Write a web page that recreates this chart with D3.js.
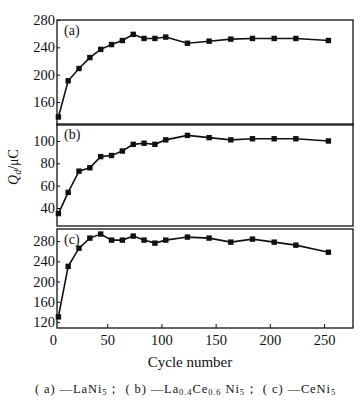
<!DOCTYPE html>
<html><head><meta charset="utf-8">
<script src="https://cdn.jsdelivr.net/npm/d3@7"></script>
<style>body{margin:0;background:#fff}svg{display:block}</style>
</head><body>
<svg id="c" width="361" height="408"></svg>
<script>
const cycles = [5,14,24,34,44,54,64,74,84,94,104,124,144,164,184,204,224,254];
const seriesA = [138,191,209,225,237,244,250,259,253,253,255,246,249,252,253,253,253,250];
const seriesB = [35,54,73,76,86,87,91,97,98,97,101,105,103,101,102,102,102,100];
const seriesC = [130,230,266,286,294,282,282,290,282,276,282,288,286,278,284,278,272,258];
const ticksA = [160,200,240,280];
const ticksB = [40,60,80,100];
const ticksC = [120,160,200,240,280];
const xTicks = [0,50,100,150,200,250];
const panelLabels = ["(a)","(b)","(c)"];

const svg = d3.select("#c");
const font = "'Liberation Serif', 'Times New Roman', serif";
const x = d3.scaleLinear().domain([3.7, 276.7]).range([57, 353]);

const panels = [
  {data: seriesA, ticks: ticksA, domain: [126.3, 280], top: 20, bottom: 125, label: panelLabels[0]},
  {data: seriesB, ticks: ticksB, domain: [23.9, 115.2], top: 124, bottom: 226, label: panelLabels[1]},
  {data: seriesC, ticks: ticksC, domain: [108, 304], top: 229, bottom: 328, label: panelLabels[2]}
];

panels.forEach((p, i) => {
  const y = d3.scaleLinear().domain(p.domain).range([p.bottom, p.top]);
  const g = svg.append("g");
  const ya = g.append("g").attr("transform", `translate(${x.range()[0]},0)`)
    .call(d3.axisLeft(y).tickValues(p.ticks).tickSize(-3).tickPadding(2).tickFormat(d3.format("d")));
  ya.select(".domain").remove();
  ya.selectAll("line").attr("stroke", "#111").attr("stroke-width", 1);
  ya.selectAll("text").attr("font-family", font).attr("font-size", 14.5).attr("fill", "#111");
  g.append("rect").attr("x", x.range()[0]).attr("y", p.top)
    .attr("width", x.range()[1] - x.range()[0]).attr("height", p.bottom - p.top)
    .attr("fill", "none").attr("stroke", "#111").attr("stroke-width", 1.3);
  const pts = p.data.map((v, j) => [cycles[j], v]);
  g.append("path").datum(pts)
    .attr("d", d3.line().x(d => x(d[0])).y(d => y(d[1])))
    .attr("fill", "none").attr("stroke", "#111").attr("stroke-width", 1.6);
  g.selectAll("rect.m").data(pts).enter().append("rect").attr("class", "m")
    .attr("x", d => x(d[0]) - 2.7).attr("y", d => y(d[1]) - 2.7)
    .attr("width", 5.4).attr("height", 5.4).attr("fill", "#111");
  g.append("text").attr("x", x.range()[0] + 7).attr("y", p.top + 15)
    .attr("font-family", font).attr("font-size", 14).attr("fill", "#111").text(p.label);
  if (i === 2) {
    const xa = g.append("g").attr("transform", `translate(0,${p.bottom})`)
      .call(d3.axisBottom(x).tickValues(xTicks).tickSize(-4).tickPadding(7).tickFormat(d3.format("d")));
    xa.select(".domain").remove();
    xa.selectAll("line").attr("stroke", "#111").attr("stroke-width", 1);
    xa.selectAll(".tick").filter(d => d === 0).select("line").remove();
    xa.selectAll("text").attr("font-family", font).attr("font-size", 14.5).attr("fill", "#111");
  }
});

svg.append("text").attr("x", 190).attr("y", 367).attr("text-anchor", "middle")
  .attr("font-family", font).attr("font-size", 15).attr("fill", "#111").text("Cycle number");

const yt = svg.append("text").attr("transform", "translate(18,167) rotate(-90)")
  .attr("text-anchor", "middle").attr("font-family", font).attr("font-size", 14).attr("fill", "#111");
yt.append("tspan").attr("font-style", "italic").text("Q");
yt.append("tspan").attr("font-style", "italic").attr("font-size", 10).attr("dy", 3).text("d");
yt.append("tspan").attr("dy", -3).text("/μC");

const cap = svg.append("text").attr("x", 35).attr("y", 393)
  .attr("font-family", font).attr("font-size", 12.5).attr("letter-spacing", 0.9).attr("fill", "#111");
const parts = [
  ["( a)  —LaNi", 0], ["5", 1], ["；  ( b)  —La", 0], ["0.4", 1], ["Ce", 0], ["0.6", 1], [" Ni", 0], ["5", 1],
  ["；  ( c)  —CeNi", 0], ["5", 1]
];
parts.forEach(([t, sub], k) => {
  const ts = cap.append("tspan").text(t);
  if (sub) ts.attr("font-size", 8.5).attr("dy", 2);
  else if (k > 0) ts.attr("dy", -2);
});
</script>
</body></html>
